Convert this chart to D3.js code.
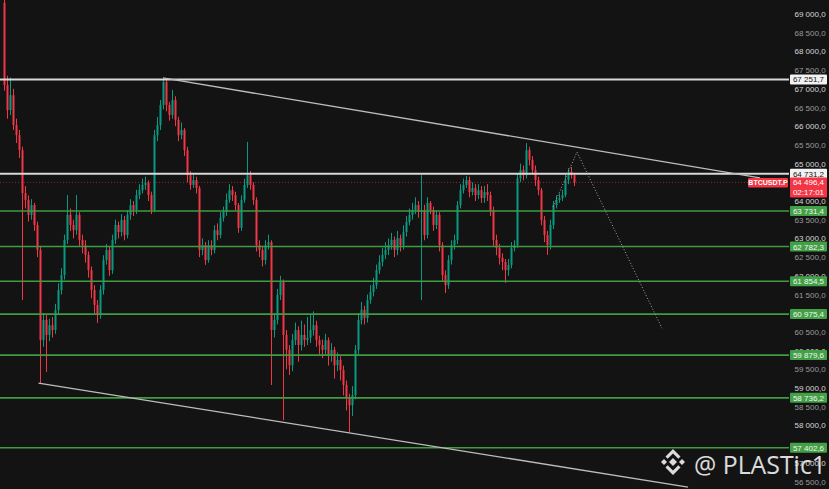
<!DOCTYPE html>
<html><head><meta charset="utf-8">
<script src="https://cdn.jsdelivr.net/npm/d3@7"></script>
<style>html,body{margin:0;padding:0;background:#131313;overflow:hidden}</style>
</head><body>
<svg id="c" width="829" height="489"></svg>
<script>
// ---- data ----
const open = [
69300,67100,66430,66830,66030,65760,65360,64210,64030,63630,
63890,63360,62690,60280,60820,60420,60680,60550,61090,61620,
62020,62960,63630,63360,63220,63630,62960,62820,62560,62150,
61620,61220,60950,61620,62420,62690,62150,62960,63360,63170,
63490,63090,63630,63890,63760,64160,64290,64430,64480,64160,
63760,65760,66030,66570,67180,66570,66300,66700,66170,65760,
65900,65360,64690,64430,64560,64350,62690,62820,62420,62820,
62690,63220,63090,63550,63710,64030,64290,64160,63890,63280,
64030,64430,64690,64430,64030,62820,62690,62420,62820,62900,
60550,60820,61490,61830,60420,60020,59610,60280,60550,60150,
60420,60280,60340,60550,60680,60280,60150,60020,60280,59880,
60020,59610,59750,59480,59080,58730,58540,58810,60020,60820,
61090,60870,61350,61570,61750,62150,62370,62560,62690,62820,
62960,62690,63010,62820,63170,63440,63630,63760,63890,63710,
63760,63090,63950,63760,63360,63630,62820,62020,61750,62420,
62820,62960,63890,64290,64430,64560,64240,64350,64160,64290,
64080,64240,64160,63760,62960,62740,62480,62370,62150,62290,
62740,62820,64610,64830,64690,65360,65100,64830,64560,64290,
63490,63090,62820,63360,63890,64030,64080,64160,64560,64780,
64690];
const close = [
67100,66430,66830,66030,65760,65360,64210,64030,63630,63890,
63360,62690,60280,60820,60420,60680,60550,61090,61620,62020,
62960,63630,63360,63220,63630,62960,62820,62560,62150,61620,
61220,60950,61620,62420,62690,62150,62960,63360,63170,63490,
63090,63630,63890,63760,64160,64290,64430,64480,64160,63760,
65760,66030,66570,67180,66570,66300,66700,66170,65760,65900,
65360,64690,64430,64560,64350,62690,62820,62420,62820,62690,
63220,63090,63550,63710,64030,64290,64160,63890,63280,64030,
64430,64690,64430,64030,62820,62690,62420,62820,62900,60550,
60820,61490,61830,60420,60020,59610,60280,60550,60150,60420,
60280,60340,60550,60680,60280,60150,60020,60280,59880,60020,
59610,59750,59480,59080,58730,58540,58810,60020,60820,61090,
60870,61350,61570,61750,62150,62370,62560,62690,62820,62960,
62690,63010,62820,63170,63440,63630,63760,63890,63710,63760,
63090,63950,63760,63360,63630,62820,62020,61750,62420,62820,
62960,63890,64290,64430,64560,64240,64350,64160,64290,64080,
64240,64160,63760,62960,62740,62480,62370,62150,62290,62740,
62820,64610,64830,64690,65360,65100,64830,64560,64290,63490,
63090,62820,63360,63890,64030,64080,64160,64560,64780,64690,
64496.4];
const high = [
69500,67350,67300,67000,66200,65900,65450,64400,64150,64050,
63950,63450,62800,61000,60950,60850,60900,61250,61800,62200,
63100,64160,63800,63500,64160,63700,63100,62950,62650,62250,
61750,61350,61750,62550,62850,62800,63100,63500,63450,63650,
63600,63750,64050,64000,64300,64450,64600,64650,64550,64250,
65900,66250,66700,67290,67250,66650,66970,66800,66250,66100,
65950,65450,64800,64700,64650,64400,63000,62900,62950,62950,
63350,63400,63700,63850,64200,64450,64400,64250,63950,64150,
64600,65580,64800,64500,64100,62950,62800,62950,63100,62950,
61000,61650,62000,61900,60550,60150,60450,60750,60650,60800,
60700,60900,60950,61050,60800,60400,60300,60450,60350,60200,
60100,59950,59850,59600,59200,58850,59050,60150,61000,61300,
61200,61500,61750,61950,62300,62550,62750,62900,63000,63150,
63050,63200,63100,63350,63600,63800,63950,64100,64000,64690,
63900,64100,64000,63850,63750,63700,62900,62150,62550,62950,
63100,64000,64450,64600,64670,64650,64500,64450,64450,64400,
64400,64450,64250,63850,63100,62850,62600,62450,62450,62900,
62950,64750,65000,64950,65550,65450,65200,64950,64650,64350,
63600,63200,63500,64000,64150,64200,64300,64700,64880,64910,
64750];
const low = [
66950,66200,66300,65900,65550,65150,61350,63800,63450,63500,
63200,62500,59130,60100,59430,60250,60350,60450,60950,61500,
61900,62850,63200,63000,63100,62800,62600,62350,61950,61400,
61000,60740,60850,61500,62300,62000,62050,62850,63000,63050,
62950,63000,63500,63600,63650,64050,64200,64300,64000,63650,
63700,65600,65900,66450,66400,66150,66200,66000,65600,65650,
65200,64500,64300,64350,64200,62500,62550,62290,62350,62550,
62600,62950,63000,63450,63600,63950,64000,63750,63150,63200,
63950,64350,64300,63900,62650,62500,62250,62300,62700,59080,
60350,60700,61350,58140,59500,59350,59450,60150,59700,60000,
60100,60150,60200,60400,60100,59900,59800,59900,59600,59700,
59250,59450,59200,58800,58400,57820,58250,58700,59900,60700,
60700,60750,61250,61450,61650,62050,62250,62450,62550,62700,
62500,62550,62650,62700,63050,63350,63500,63650,63550,61350,
62950,63000,63650,63200,63250,62650,61850,61540,61650,62300,
62700,62850,63800,64200,64350,64100,64150,64000,64050,63950,
63950,64000,63600,62800,62550,62300,62150,61810,62000,62200,
62650,62750,64500,64550,64600,64950,64700,64400,64150,63350,
62900,62560,62700,63250,63800,63950,64000,64100,64450,64600,
64400];

const whiteLevels = [67251.7, 64731.2];
const greenLevels = [63731.4, 62782.3, 61854.5, 60975.4, 59879.6, 58736.2, 57402.6];
const lastPrice = 64496.4;
const countdown = "02:17:01";
const symbol = "BTCUSDT.P";
// axis labels that are not hidden behind a price box in the reference
const tickValues = [69000, 68500, 68000, 67500, 67000, 66500, 66000, 65500, 65000,
  64000, 63500, 63000, 62500, 62000, 61500, 60500, 60000, 59500, 59000, 58500, 58000, 57000, 56500];
// trend lines: [candle index, price]
const upperTrend = [[53, 67290], [252, 64620]];
const lowerTrend = [[11.5, 59130], [228, 56352]];
const projection = [[183, 63840], [191, 65310], [219.3, 60600]];
const watermark = "@ PLASTic1";

// ---- drawing ----
const svg = d3.select("#c");
const W = 829, H = 489, plotRight = 789;
const x = d3.scaleLinear().domain([0, close.length - 1]).range([4, 574]);
const y = d3.scaleLinear().domain([56500, 69000]).range([481.5, 14]);
const loc = d3.formatLocale({decimal: ",", thousands: "\u2009", grouping: [3], currency: ["", ""]});
const fmt = v => loc.format(",.1f")(v).replace("\u2009", " ");
const UP = "#089981", DN = "#f23645";
const FONT = "'Liberation Sans', Arial, sans-serif";

svg.append("rect").attr("width", W).attr("height", H).attr("fill", "#131313");

// tick labels
const axisG = svg.append("g").attr("transform", `translate(${W},0)`)
  .call(d3.axisRight(y).tickValues(tickValues).tickSize(0).tickPadding(0).tickFormat(fmt));
axisG.select(".domain").remove();
axisG.selectAll("text")
  .attr("x", -19).attr("text-anchor", "middle")
  .attr("font-family", FONT).attr("font-size", 8)
  .attr("fill", d => d % 1000 === 0 ? "#d6d6d6" : "#9a9a9a");

// candles
const g = svg.append("g");
const idx = d3.range(close.length);
g.selectAll("line.w").data(idx).join("line")
  .attr("x1", i => Math.round(x(i)) + 0.5).attr("x2", i => Math.round(x(i)) + 0.5)
  .attr("y1", i => y(high[i])).attr("y2", i => y(low[i]))
  .attr("stroke", i => close[i] >= open[i] ? UP : DN).attr("stroke-width", 1);
g.selectAll("rect.b").data(idx).join("rect")
  .attr("x", i => Math.round(x(i)) - 0.5).attr("width", 2)
  .attr("y", i => y(Math.max(open[i], close[i])))
  .attr("height", i => Math.max(1, Math.abs(y(open[i]) - y(close[i]))))
  .attr("fill", i => close[i] >= open[i] ? UP : DN);

// horizontal levels
svg.selectAll("line.gl").data(greenLevels).join("line")
  .attr("x1", 0).attr("x2", plotRight).attr("y1", d => y(d)).attr("y2", d => y(d))
  .attr("stroke", "#3f9c42").attr("stroke-width", 1.6);
svg.selectAll("line.wl").data(whiteLevels).join("line")
  .attr("x1", 0).attr("x2", plotRight).attr("y1", d => y(d)).attr("y2", d => y(d))
  .attr("stroke", "#d8d8d8").attr("stroke-width", 2);
svg.append("line").attr("x1", 0).attr("x2", plotRight)
  .attr("y1", y(lastPrice)).attr("y2", y(lastPrice))
  .attr("stroke", DN).attr("stroke-opacity", 0.55).attr("stroke-dasharray", "1,2");

// trend lines
const lineGen = d3.line().x(d => x(d[0])).y(d => y(d[1]));
svg.append("path").attr("d", lineGen(upperTrend)).attr("fill", "none")
  .attr("stroke", "#bdbdbd").attr("stroke-width", 1.3);
svg.append("path").attr("d", lineGen(lowerTrend)).attr("fill", "none")
  .attr("stroke", "#bdbdbd").attr("stroke-width", 1.3);
svg.append("path").attr("d", lineGen(projection)).attr("fill", "none")
  .attr("stroke", "#a8a8a8").attr("stroke-width", 1).attr("stroke-dasharray", "1,2");

// price boxes
function box(v, bg, fg) {
  const yy = y(v);
  svg.append("rect").attr("x", 790).attr("y", yy - 5).attr("width", 37).attr("height", 10)
    .attr("rx", 1).attr("fill", bg);
  svg.append("text").attr("x", 808.5).attr("y", yy + 3).attr("text-anchor", "middle")
    .attr("font-family", FONT).attr("font-size", 8).attr("fill", fg).text(fmt(v));
}
whiteLevels.forEach(v => box(v, "#f2f2f2", "#131313"));
greenLevels.forEach(v => box(v, "#43a047", "#f0f7f0"));

// last price box
const ly = y(lastPrice);
svg.append("rect").attr("x", 790).attr("y", ly - 5).attr("width", 37).attr("height", 20)
  .attr("rx", 1).attr("fill", DN);
svg.append("text").attr("x", 808.5).attr("y", ly + 3).attr("text-anchor", "middle")
  .attr("font-family", FONT).attr("font-size", 8).attr("fill", "#ffffff").text(fmt(lastPrice));
svg.append("text").attr("x", 808.5).attr("y", ly + 12.5).attr("text-anchor", "middle")
  .attr("font-family", FONT).attr("font-size", 8).attr("fill", "#ffffff").text(countdown);
svg.append("rect").attr("x", 748).attr("y", ly - 4.5).attr("width", 40).attr("height", 9.5)
  .attr("rx", 1).attr("fill", DN);
svg.append("text").attr("x", 768).attr("y", ly + 2.8).attr("text-anchor", "middle")
  .attr("font-family", FONT).attr("font-size", 7).attr("font-weight", "bold")
  .attr("fill", "#ffffff").text(symbol);

// watermark
const wm = svg.append("g").attr("fill", "#ececec").attr("opacity", 0.92);
const logo = [
  [[673,458],[677,462],[673,466],[669,462]],
  [[664,459],[667,462],[664,465],[661,462]],
  [[682,459],[685,462],[682,465],[679,462]],
  [[665.5,456.5],[673,449],[680.5,456.5],[678.3,458.7],[673,453.4],[667.7,458.7]],
  [[665.5,467.5],[673,475],[680.5,467.5],[678.3,465.3],[673,470.6],[667.7,465.3]]
];
wm.selectAll("polygon").data(logo).join("polygon").attr("points", d => d.map(p => p.join(",")).join(" "));
wm.append("text").attr("x", 694).attr("y", 474).attr("font-family", "'Open Sans', sans-serif")
  .attr("font-size", 25).attr("textLength", 132).attr("lengthAdjust", "spacingAndGlyphs")
  .text(watermark);
</script>
</body></html>
